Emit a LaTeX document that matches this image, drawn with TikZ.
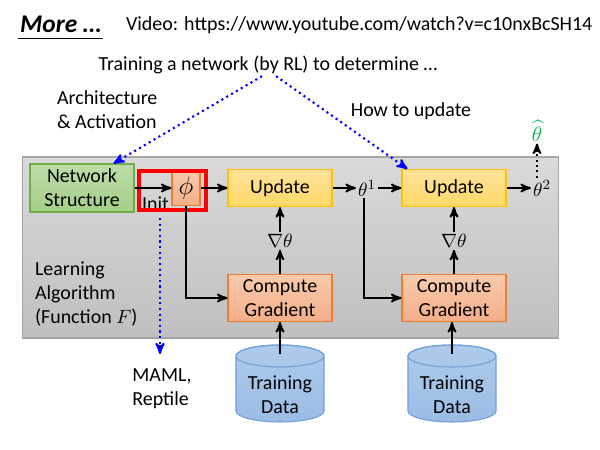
\documentclass[tikz,border=0pt]{standalone}
\usepackage{amsmath}
\usepackage{fontspec}
\setmainfont{Carlito}
\usetikzlibrary{shapes.geometric, arrows, calc}
\definecolor{nsline}{HTML}{70AD47}
\definecolor{nstop}{HTML}{BEDCA8}
\definecolor{nsbot}{HTML}{A5CF88}
\definecolor{updline}{HTML}{FFC000}
\definecolor{updtop}{HTML}{FFE29C}
\definecolor{updbot}{HTML}{FFD966}
\definecolor{gradline}{HTML}{ED7D31}
\definecolor{gradtop}{HTML}{F8CBAD}
\definecolor{gradbot}{HTML}{F4AE88}
\definecolor{bgtop}{HTML}{DADADA}
\definecolor{bgbot}{HTML}{BFBFBF}
\definecolor{bgline}{HTML}{A6A6A6}
\definecolor{cyltop}{HTML}{AECBEC}
\definecolor{cylbot}{HTML}{9ABCE5}
\definecolor{cylline}{HTML}{6E9FD6}
\definecolor{hatgreen}{HTML}{00B050}

\begin{document}
\begin{tikzpicture}[
  x=0.02cm, y=-0.02cm,
  >=stealth',
  inner sep=1pt,
  font=\fontsize{11.35}{13.6}\selectfont,
  box/.style={draw, line width=0.6pt, inner sep=0pt, align=center, minimum width=2.08cm},
  nsbox/.style={box, draw=nsline, top color=nstop, bottom color=nsbot, minimum height=0.96cm},
  updbox/.style={box, draw=updline, top color=updtop, bottom color=updbot, minimum height=0.74cm},
  gradbox/.style={box, draw=gradline, top color=gradtop, bottom color=gradbot, minimum height=0.94cm},
  datacyl/.style={draw=cylline, line width=0.6pt, top color=cyltop, bottom color=cylbot},
  flow/.style={->, line width=1.1pt},
  bluedot/.style={->, blue, dotted, line width=1.2pt},
]
\useasboundingbox (0,0) rectangle (600,450);

\node[draw=bgline, line width=0.6pt, top color=bgtop, bottom color=bgbot, inner sep=0pt,
  minimum width=10.74cm, minimum height=3.62cm] (alg) at (290.5,247.5) {};

\node[anchor=west, inner xsep=1pt, inner ysep=3.4pt, font=\fontsize{14.5}{16}\selectfont\bfseries\itshape] (more) at (18,24) {More …};
\draw[line width=0.9pt] (more.south west) -- (more.south east);
\node[anchor=west] (video) at (124,25) {Video: https://www.youtube.com/watch?v=c10nxBcSH14};
\node (train) at (268,65) {Training a network (by RL) to determine …};
\node[anchor=west, align=left] (arch) at (55,110) {Architecture\\\& Activation};
\node (how) at (411,111) {How to update};

\node[nsbox] (ns) at (82,188) {Network\\Structure};
\node[gradbox, minimum width=0.56cm, minimum height=0.7cm, font=\fontsize{14}{15}\selectfont] (phi) at (186,188) {$\phi$};
\node[updbox] (up1) at (280,188) {Update};
\node (th1) at (367,188) {$\theta^1$};
\node[updbox] (up2) at (454,188) {Update};
\node (th2) at (542,188) {$\theta^2$};
\node[text=hatgreen, font=\fontsize{12.5}{14}\selectfont] (thh) at (537,131) {$\widehat{\theta}$};
\node (g1) at (280,241) {$\nabla\theta$};
\node (g2) at (454,241) {$\nabla\theta$};
\node[gradbox] (cg1) at (280,298) {Compute\\Gradient};
\node[gradbox] (cg2) at (454,298) {Compute\\Gradient};

% training data cylinders
\foreach \cx/\nm in {280/td1, 452/td2}{
  \draw[datacyl] (\cx-44,356) -- (\cx-44,411) arc (180:0:44 and 11)
    -- (\cx+44,356) arc (0:-180:44 and 11) -- cycle;
  \draw[cylline, line width=0.6pt] (\cx,356) ellipse (44 and 11);
  \coordinate (\nm) at (\cx,354);
  \node[align=center] (\nm txt) at (\cx,395) {Training\\Data};
}

\node[anchor=west, align=left] (learn) at (33,294) {Learning\\Algorithm\\(Function $F$)};
\node[align=left] (maml) at (162,389) {MAML,\\Reptile};
\node[anchor=west] (init) at (140,204) {Init};
\node[draw=red, line width=2.3pt, inner sep=0pt, minimum width=1.34cm, minimum height=0.78cm] (pick) at (172.5,190.5) {};

\draw[flow] (ns) -- (phi);
\draw[flow] (phi) -- (up1);
\draw[flow] (up1) -- (th1);
\draw[flow] (th1) -- (up2);
\draw[flow] (up2) -- (th2);
\draw[flow] (cg1) -- (g1);
\draw[flow] (g1) -- (up1);
\draw[flow] (cg2) -- (g2);
\draw[flow] (g2) -- (up2);
\draw[flow] (phi) |- (cg1);
\draw[flow] ($(th1.south)+(-3,0)$) |- (cg2);
\draw[flow] (td1) -- (td1 |- cg1.south);
\draw[flow] (td2) -- (td2 |- cg2.south);
\draw[->, dotted, line width=1.1pt] (thh.south |- th2.north) -- (thh);

\draw[bluedot] ($(train.south)+(-6,0)$) -- ($(ns.north east)+(-21,0)$);
\draw[bluedot] ($(train.south)+(8,0)$) -- ($(up2.north west)+(6,0)$);
\coordinate (mstart) at (160,218);
\draw[bluedot, shorten >=0.26cm] (mstart) -- (mstart |- maml.north);
\end{tikzpicture}
\end{document}
